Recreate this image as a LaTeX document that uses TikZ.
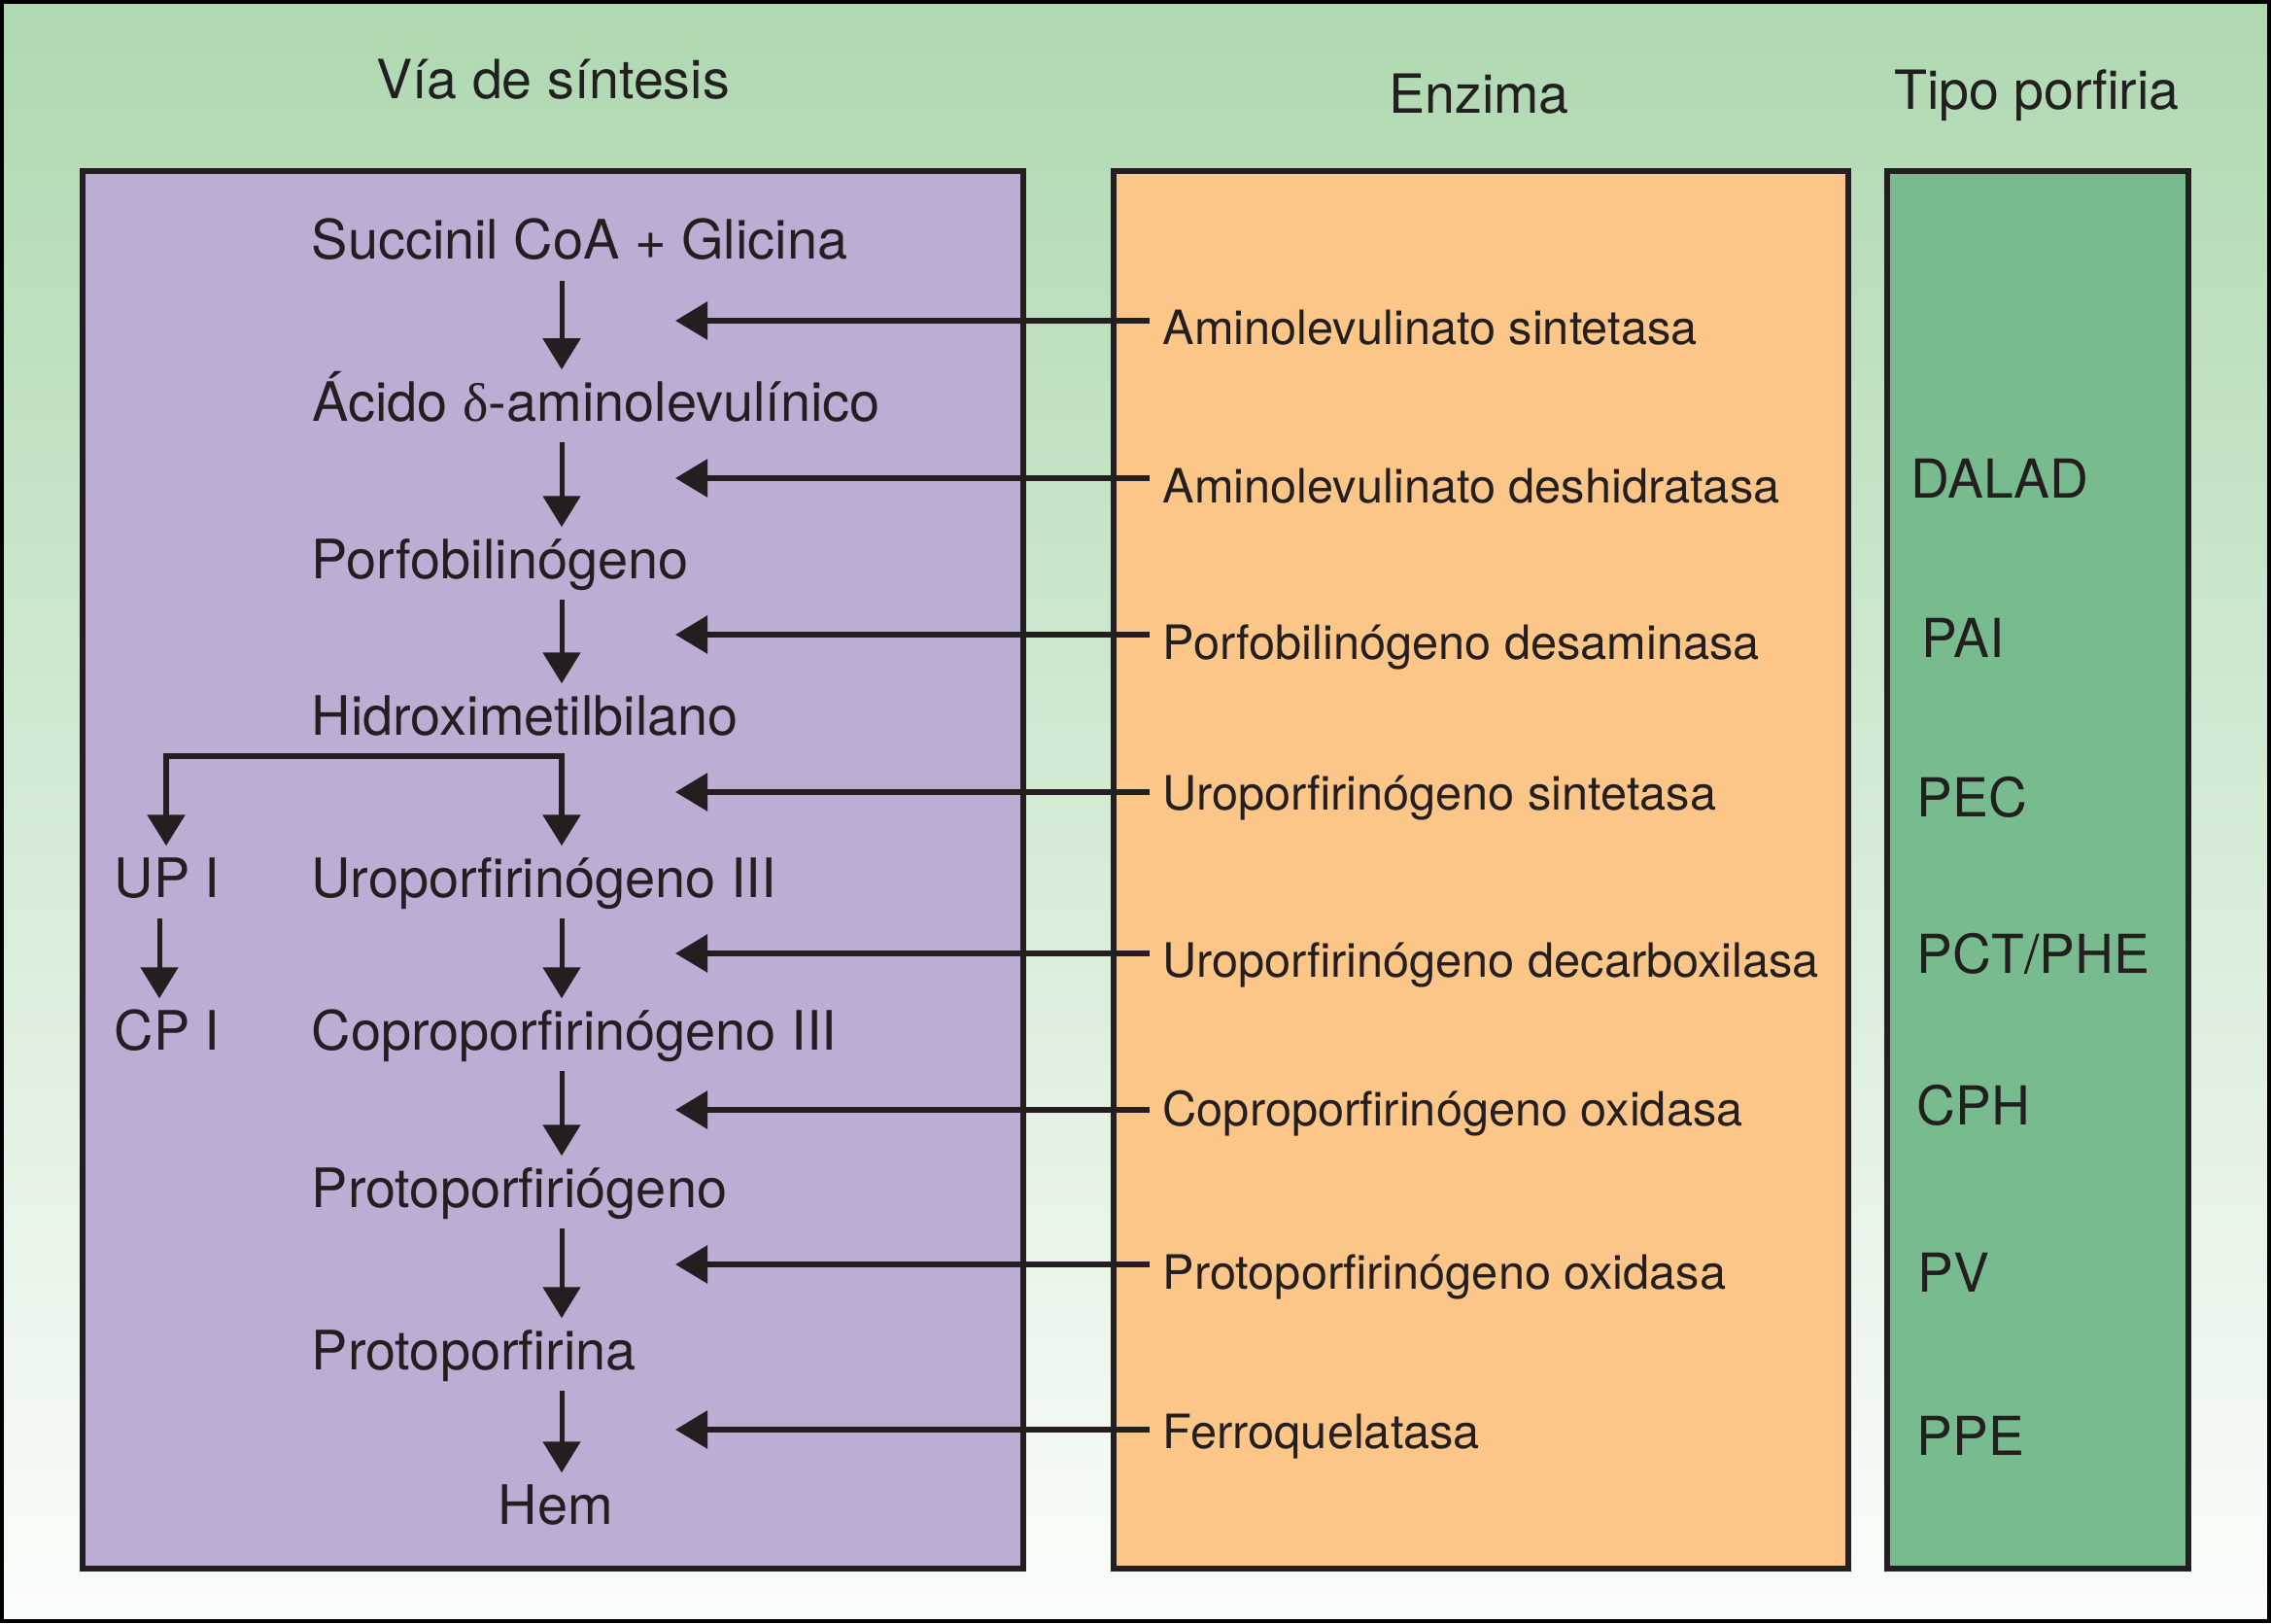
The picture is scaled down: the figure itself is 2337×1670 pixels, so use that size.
\documentclass[tikz,border=0pt]{standalone}
\usepackage{fontspec}
\setmainfont{TeX Gyre Heros}
\newfontfamily\grkfont{Liberation Serif}
\usetikzlibrary{arrows.meta}
\definecolor{bgtop}{RGB}{174,216,176}
\definecolor{bgbot}{RGB}{250,253,250}
\definecolor{purp}{RGB}{189,173,212}
\definecolor{orng}{RGB}{253,198,137}
\definecolor{grn}{RGB}{119,187,142}
\definecolor{ink}{RGB}{35,31,32}
\begin{document}
\begin{tikzpicture}[x=0.01cm,y=-0.01cm,
  boxline/.style={draw=ink,line width=0.06cm},
  hdr/.style={anchor=base,inner sep=0,font=\fontsize{15.8}{18}\selectfont,text=ink},
  pathnode/.style={anchor=base west,inner xsep=0,inner ysep=0.12cm,text height=0.40cm,text depth=0.09cm,font=\fontsize{15.9}{18}\selectfont,text=ink},
  enz/.style={anchor=base west,inner xsep=0.13cm,inner ysep=0,font=\fontsize{13.85}{16}\selectfont,text=ink},
  ptype/.style={anchor=base west,inner sep=0,font=\fontsize{15.7}{18}\selectfont,text=ink},
  varrow/.style={draw=ink,line width=0.05cm,-{Triangle[length=0.32cm,width=0.38cm]}},
  brarrow/.style={draw=ink,line width=0.06cm,line join=miter,-{Triangle[length=0.32cm,width=0.38cm]}},
  harrow/.style={draw=ink,line width=0.06cm,-{Triangle[length=0.33cm,width=0.38cm]}}
]
% background and frame
\shade[top color=bgtop,bottom color=bgbot] (0,0) rectangle (2337,1670);
\useasboundingbox (0,0) rectangle (2337,1670);
\draw[black,line width=0.04cm] (2,2) rectangle (2335,1668);

% column boxes
\draw[boxline,fill=purp] (85,176) rectangle (1053,1614);
\draw[boxline,fill=orng] (1146,176) rectangle (1902,1614);
\draw[boxline,fill=grn] (1942,176) rectangle (2252,1614);

% headers
\node[hdr] (h1) at (569,102) {Vía de síntesis};
\node[hdr] (h2) at (1522,117) {Enzima};
\node[hdr] (h3) at (2096,113) {Tipo porfiria};

% pathway
\node[pathnode] (p1) at (320,267) {Succinil CoA + Glicina};
\node[pathnode] (p2) at (321,433) {Ácido {\grkfont δ}-aminolevulínico};
\node[pathnode] (p3) at (320,595) {Porfobilinógeno};
\node[pathnode] (p4) at (320,756) {Hidroximetilbilano};
\node[pathnode] (p5) at (320,923) {Uroporfirinógeno III};
\node[pathnode] (u1) at (117,923) {UP I};
\node[pathnode] (p6) at (320,1080) {Coproporfirinógeno III};
\node[pathnode] (u2) at (117,1080) {CP I};
\node[pathnode] (p7) at (320,1242) {Protoporfiriógeno};
\node[pathnode] (p8) at (320,1409) {Protoporfirina};
\node[pathnode,anchor=base] (p9) at (572,1568) {Hem};

\coordinate (col) at (578,0);
\coordinate (lcol) at (171,0);
\coordinate (ucol) at (164,0);

\draw[varrow] (p1.south -| col) -- (p2.north -| col);
\draw[varrow] (p2.south -| col) -- (p3.north -| col);
\draw[varrow] (p3.south -| col) -- (p4.north -| col);
\draw[brarrow] (p4.south -| lcol) -| (p5.north -| col);
\draw[brarrow] (p4.south -| col) -| (u1.north -| lcol);
\draw[varrow] (p5.south -| col) -- (p6.north -| col);
\draw[varrow] (u1.south -| ucol) -- (u2.north -| ucol);
\draw[varrow] (p6.south -| col) -- (p7.north -| col);
\draw[varrow] (p7.south -| col) -- (p8.north -| col);
\draw[varrow] (p8.south -| col) -- (p9.north -| col);

% enzymes
\node[enz] (e1) at (1183,355) {Aminolevulinato sintetasa};
\node[enz] (e2) at (1183,517) {Aminolevulinato deshidratasa};
\node[enz] (e3) at (1183,678) {Porfobilinógeno desaminasa};
\node[enz] (e4) at (1183,833) {Uroporfirinógeno sintetasa};
\node[enz] (e5) at (1183,1005) {Uroporfirinógeno decarboxilasa};
\node[enz] (e6) at (1183,1158) {Coproporfirinógeno oxidasa};
\node[enz] (e7) at (1183,1326) {Protoporfirinógeno oxidasa};
\node[enz] (e8) at (1183,1490) {Ferroquelatasa};

\coordinate (t1) at (695,330);
\coordinate (t2) at (695,492);
\coordinate (t3) at (695,653);
\coordinate (t4) at (695,815);
\coordinate (t5) at (695,981);
\coordinate (t6) at (695,1142);
\coordinate (t7) at (695,1301);
\coordinate (t8) at (695,1471);

\draw[harrow] (e1.west |- t1) -- (t1);
\draw[harrow] (e2.west |- t2) -- (t2);
\draw[harrow] (e3.west |- t3) -- (t3);
\draw[harrow] (e4.west |- t4) -- (t4);
\draw[harrow] (e5.west |- t5) -- (t5);
\draw[harrow] (e6.west |- t6) -- (t6);
\draw[harrow] (e7.west |- t7) -- (t7);
\draw[harrow] (e8.west |- t8) -- (t8);

% porphyria types
\node[ptype] (d1) at (1966,512) {DALAD};
\node[ptype] (d2) at (1977,676) {PAI};
\node[ptype] (d3) at (1972,840) {PEC};
\node[ptype] (d4) at (1972,1001) {PCT/PHE};
\node[ptype] (d5) at (1972,1157) {CPH};
\node[ptype] (d6) at (1973,1329) {PV};
\node[ptype] (d7) at (1972,1497) {PPE};
\end{tikzpicture}
\end{document}
